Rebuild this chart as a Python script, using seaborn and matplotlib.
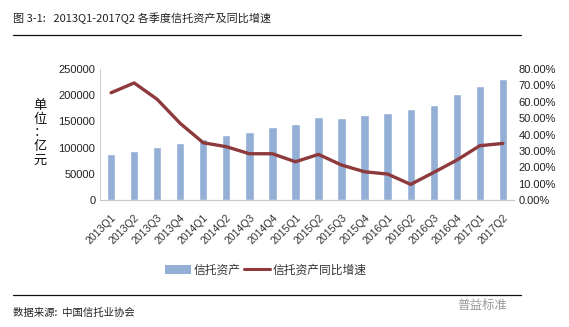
import numpy as np
import pandas as pd
import matplotlib
matplotlib.use("Agg")
import matplotlib.pyplot as plt
import seaborn as sns
from matplotlib.lines import Line2D
from matplotlib.patches import Patch
from matplotlib.ticker import FuncFormatter

quarters = ["2013Q1", "2013Q2", "2013Q3", "2013Q4", "2014Q1", "2014Q2", "2014Q3", "2014Q4",
            "2015Q1", "2015Q2", "2015Q3", "2015Q4", "2016Q1", "2016Q2", "2016Q3", "2016Q4",
            "2017Q1", "2017Q2"]
assets = [87300, 94500, 101300, 109100, 117300, 124800, 129500, 139800,
          144600, 158700, 156500, 163000, 165200, 172900, 181700, 202200,
          218500, 231400]
growth = [65.5, 71.5, 61.5, 46.8, 35.0, 32.6, 28.3, 28.3,
          23.4, 27.9, 21.4, 17.3, 15.9, 9.6, 16.9, 24.4,
          33.2, 34.6]
left_ticks = [0, 50000, 100000, 150000, 200000, 250000]
right_ticks = [0, 10, 20, 30, 40, 50, 60, 70, 80]

bar_color = "#94AFD6"
line_color = "#8E3A3C"

sns.set_theme(style="white")
plt.rcParams['font.family'] = ['Liberation Sans', 'Noto Sans CJK SC', 'DejaVu Sans']
cjk = ['Noto Sans CJK SC', 'DejaVu Sans']

df = pd.DataFrame({"quarter": quarters, "assets": assets, "growth": growth})
df["pos"] = np.arange(len(df))

fig = plt.figure(figsize=(5.69, 3.27), dpi=100)
ax = fig.add_axes([0.175, 0.388, 0.729, 0.401])
sns.barplot(data=df, x="quarter", y="assets", ax=ax, color=bar_color,
            saturation=1, width=0.36)
ax.set_ylim(0, 250000)
ax.set_xlim(-0.5, len(quarters) - 0.5)
ax.set_yticks(left_ticks)
ax.set_yticklabels([str(v) for v in left_ticks], fontsize=8, color="#222222")
ax.set_xlabel("")
ax.set_ylabel("")
ax.set_xticks(range(len(quarters)))
ax.set_xticklabels(quarters, rotation=45, ha="right", rotation_mode="anchor",
                   fontsize=7.6, color="#333333")
ax.tick_params(axis="both", length=0, pad=3)
ax.tick_params(axis="x", pad=9)

ax2 = ax.twinx()
sns.lineplot(data=df, x="pos", y="growth", ax=ax2, color=line_color, linewidth=2.4)
ax2.set_ylim(0, 80)
ax2.set_yticks(right_ticks)
ax2.yaxis.set_major_formatter(FuncFormatter(lambda v, p: f"{v:.2f}%"))
ax2.tick_params(axis="y", labelsize=8, length=0, pad=3, colors="#222222")
ax2.set_ylabel("")
ax2.set_xlabel("")
ax.set_xlim(-0.5, len(quarters) - 0.5)

for a in (ax, ax2):
    for s in ["top", "right"]:
        a.spines[s].set_visible(False)
    a.spines["left"].set_color("#D0D0D0")
    a.spines["bottom"].set_color("#C8C8C8")
    a.spines["left"].set_linewidth(0.8)
    a.spines["bottom"].set_linewidth(0.8)
ax2.spines["left"].set_visible(False)

fig.text(40 / 569, 1 - 133 / 327, "单\n位\n：\n亿\n元", ha="center", va="center",
         fontsize=9.5, family=cjk, linespacing=1.05, color="#111111")

# title and rules
fig.text(13 / 569, 1 - 18 / 327, "图 3-1:   2013Q1-2017Q2 各季度信托资产及同比增速",
         ha="left", va="center", fontsize=8, family=cjk, color="#222222")
fig.add_artist(Line2D([13 / 569, 521 / 569], [1 - 35 / 327] * 2, color="#111111", lw=0.9))
fig.add_artist(Line2D([13 / 569, 521 / 569], [1 - 295 / 327] * 2, color="#111111", lw=0.9))
fig.text(13 / 569, 1 - 313 / 327, "数据来源:  中国信托业协会", ha="left", va="center",
         fontsize=7.5, family=cjk, color="#222222", style="italic")
fig.text(507 / 569, 1 - 305 / 327, "普益标准", ha="right", va="center",
         fontsize=9, family=cjk, color="#9A9A9A")

handles = [Patch(facecolor=bar_color, edgecolor="none"),
           Line2D([0], [0], color=line_color, lw=2.2)]
leg = fig.legend(handles, ["信托资产", "信托资产同比增速"], loc="center",
                 bbox_to_anchor=(266 / 569, 1 - 270 / 327), ncol=2, frameon=False,
                 prop={"family": cjk, "size": 8.5}, handlelength=2.2, handleheight=0.8,
                 handletextpad=0.2, columnspacing=0.3)
for t in leg.get_texts():
    t.set_color("#333333")

fig.savefig("out.png", dpi=100, facecolor="white")
